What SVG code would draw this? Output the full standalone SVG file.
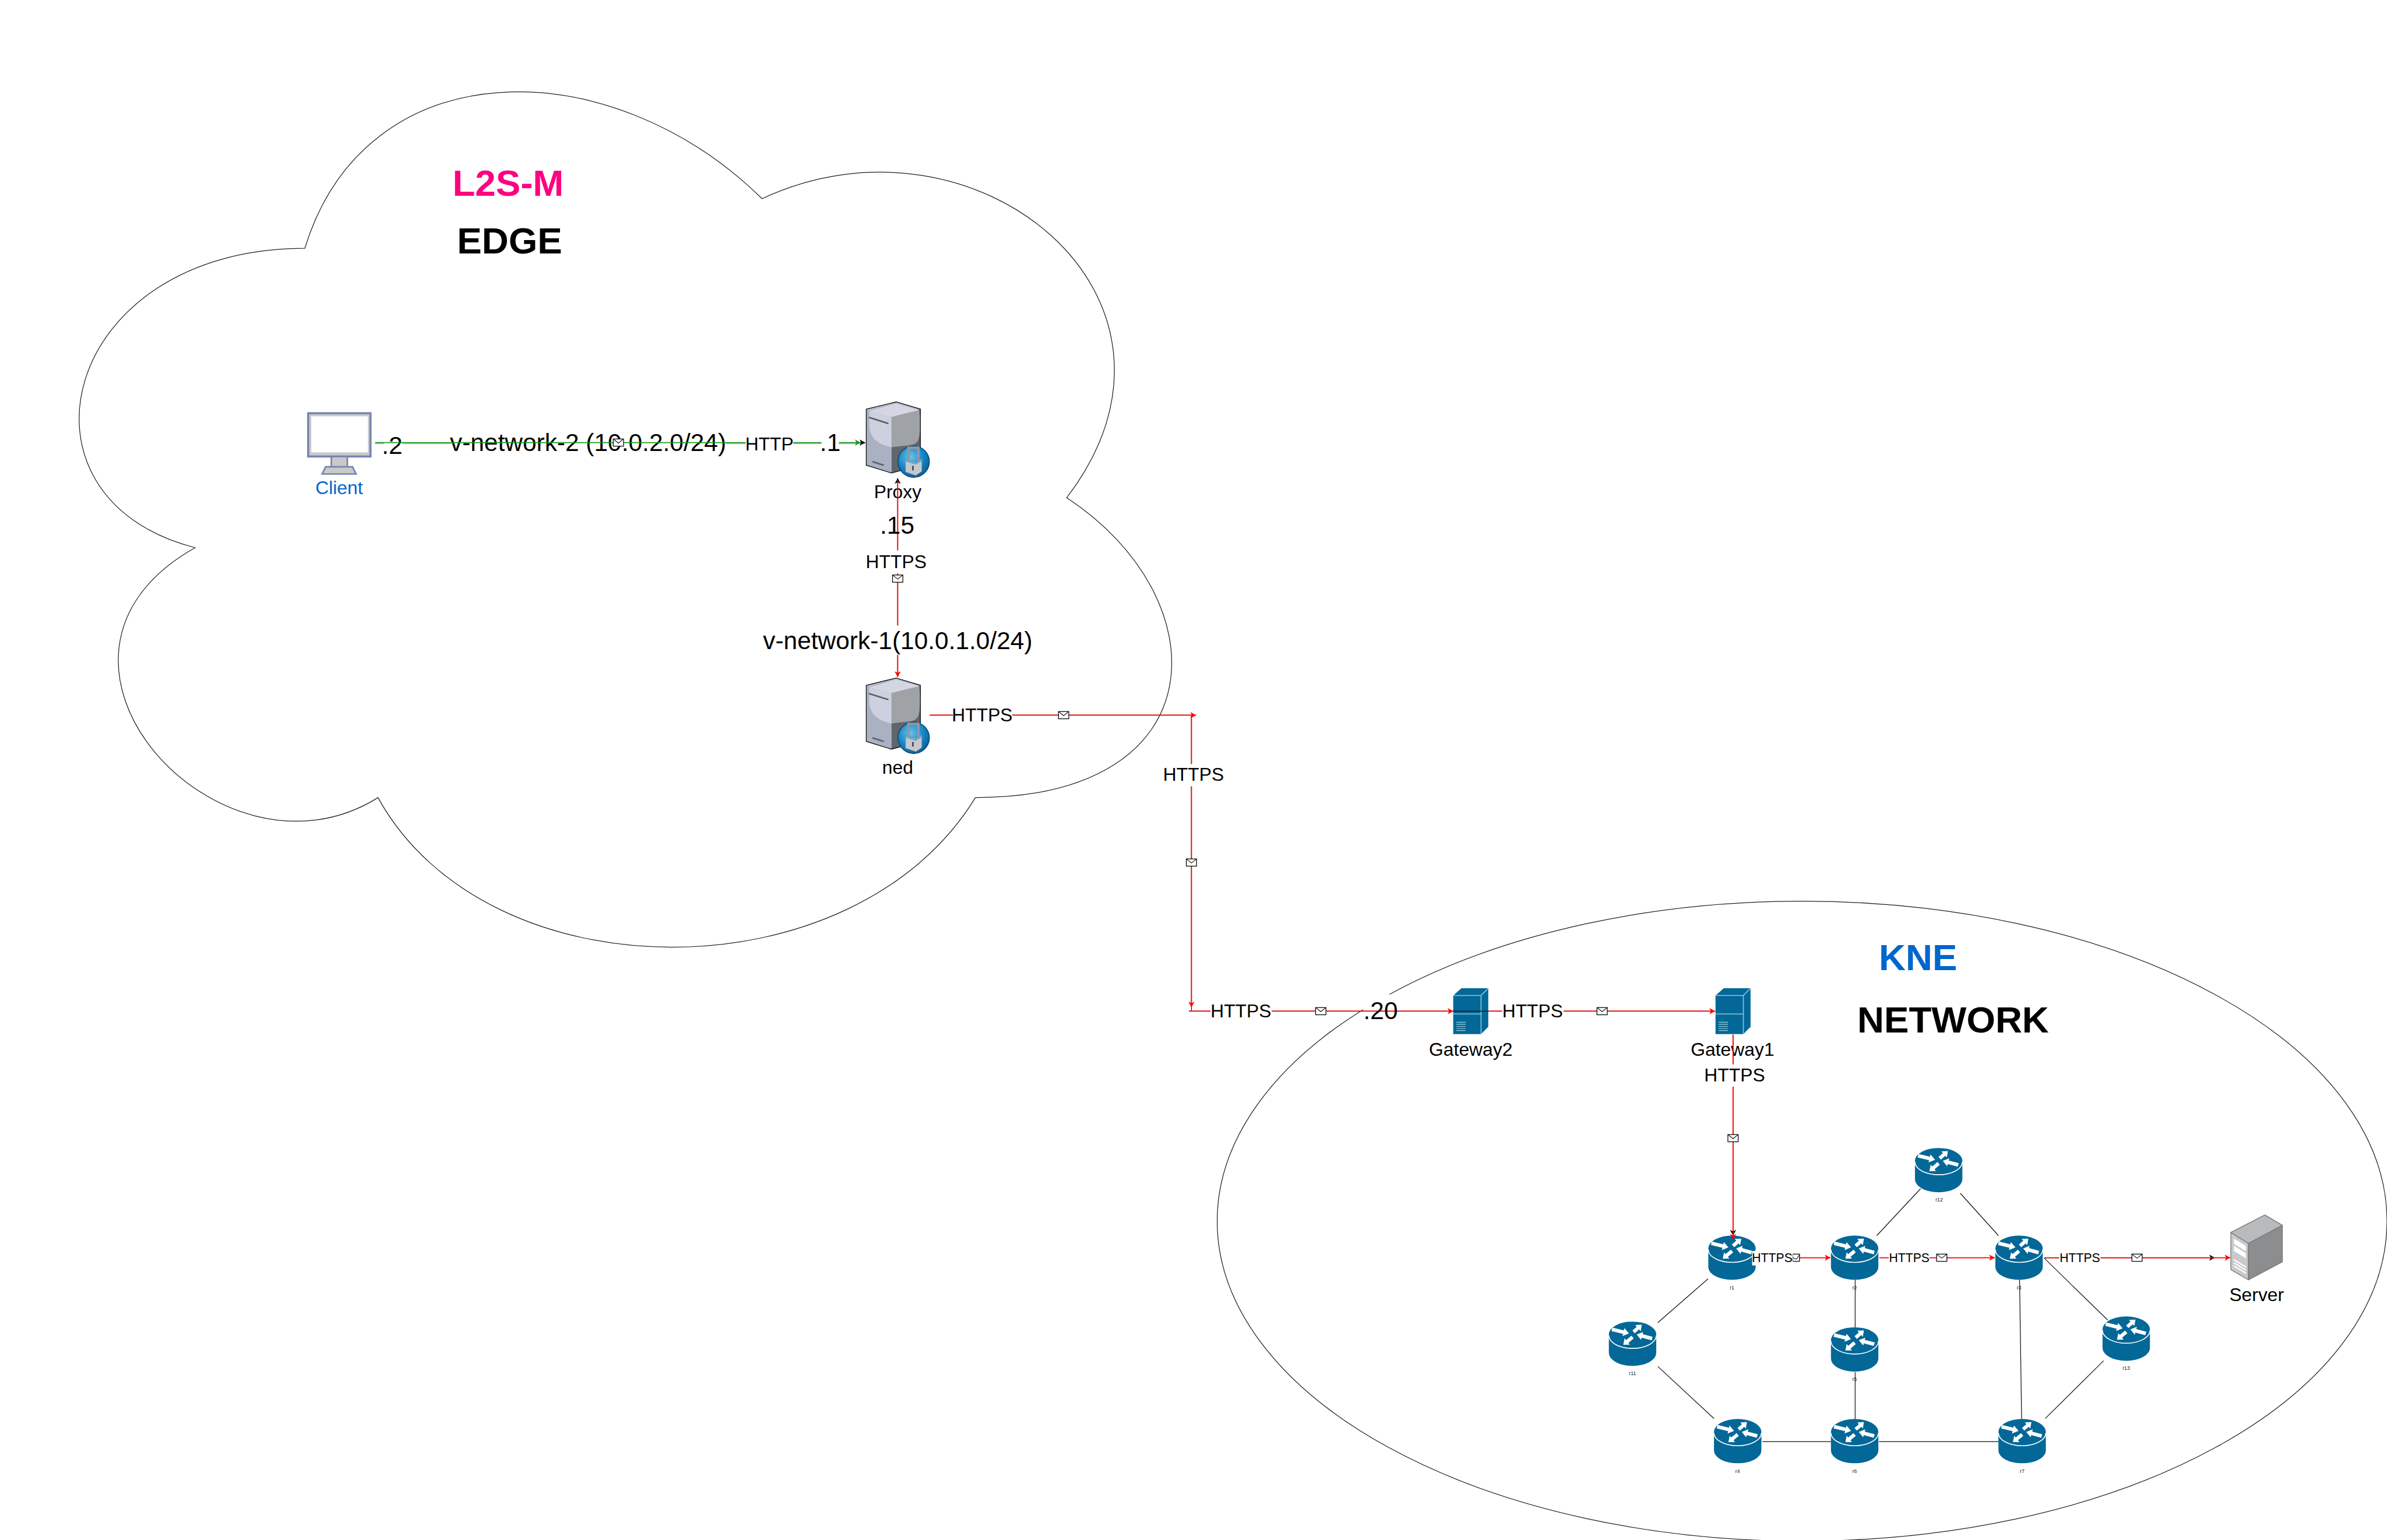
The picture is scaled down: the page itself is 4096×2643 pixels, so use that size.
<svg xmlns="http://www.w3.org/2000/svg" xmlns:xlink="http://www.w3.org/1999/xlink" width="4096" height="2643" viewBox="0 0 4096 2643">
<style>
text{font-family:"Liberation Sans",Arial,Helvetica,sans-serif;text-anchor:middle;dominant-baseline:central;fill:#000}
.t72{font-size:72px;font-weight:bold}
.t48{font-size:48px}
.t36{font-size:36px}
.t24{font-size:24px}
.t10{font-size:10px;fill:#222}
.area{fill:#fff;stroke:#222;stroke-width:1.4}
.k{fill:none;stroke:#111;stroke-width:1.4}
.r{fill:none;stroke:#f00;stroke-width:2}
.g{fill:none;stroke:#1a9a1a;stroke-width:2}
.bg{fill:#fff}
.env{fill:#fff;stroke:#000;stroke-width:1.4}
.envf{fill:none;stroke:#000;stroke-width:1.2}
.body{fill:#036897}
.w{fill:#fff}
</style>
<defs>
<marker id="ar" markerUnits="userSpaceOnUse" markerWidth="14" markerHeight="14" refX="12" refY="7" orient="auto"><path d="M1,1 L12,7 L1,13 L4,7 Z" fill="#f00"/></marker>
<marker id="ak" markerUnits="userSpaceOnUse" markerWidth="14" markerHeight="14" refX="12" refY="7" orient="auto"><path d="M1,1 L12,7 L1,13 L4,7 Z" fill="#000"/></marker>
<marker id="ag" markerUnits="userSpaceOnUse" markerWidth="14" markerHeight="14" refX="12" refY="7" orient="auto"><path d="M1,1 L12,7 L1,13 L4,7 Z" fill="#1a9a1a"/></marker>
<radialGradient id="globe" cx="0.4" cy="0.35" r="0.7"><stop offset="0" stop-color="#6ec1e8"/><stop offset="0.6" stop-color="#1285c6"/><stop offset="1" stop-color="#0a5c94"/></radialGradient>
<g id="env"><rect class="env" x="-10" y="-7" width="20" height="14"/><path class="envf" d="M-10,-7 L0,1 L10,-7"/></g>
<g id="router">
<path class="body" d="M0,25 A46,25 0 0 1 92,25 V61 A46,25 0 0 1 0,61 Z"/>
<path d="M0,27 A46,25 0 0 0 92,27" fill="none" stroke="#fff" stroke-width="1.8"/>
<polygon class="w" points="5.2,18.4 27.5,23.8 26.4,28.2 39,23 30.2,12.6 29.1,17 6.8,11.6"/>
<polygon class="w" points="84.9,29.6 65.5,24.4 66.7,20.1 54,25 62.5,35.5 63.7,31.2 83.1,36.4"/>
<polygon class="w" points="50.3,22.6 58.8,15.2 61.8,18.6 64,6 51.2,6.6 54.2,10 45.7,17.4"/>
<polygon class="w" points="48.2,32.7 37.9,41.3 40.8,44.8 28,45 30.6,32.4 33.5,35.9 43.8,27.3"/>
</g>
<g id="lockserver">
<polygon points="0,14 49,29 49,138 0,123" fill="#a9b1c3"/>
<polygon points="49,29 105,14 105,123 49,138" fill="#5f666c"/>
<polygon points="0,14 58,0 105,14 49,29" fill="#b4b9c8"/>
<path d="M6,18 L49,29 V88 C30,84 6,75 6,45 Z" fill="#cdd1df"/>
<path d="M49,29 L103,16 C106,40 105,60 102,70 C100,80 92,83 85,84 L49,88 Z" fill="#9fa2a6"/>
<polygon points="6,18 58,3 103,16 49,29" fill="#d4d7e3"/>
<path d="M5,30 L43,42 M12,116 L34,123" stroke="#5a6068" stroke-width="3" fill="none"/>
<polygon points="0,14 58,0 105,14 105,123 49,138 0,123" fill="none" stroke="#111" stroke-width="1.5"/>
<circle cx="92" cy="116" r="30.5" fill="url(#globe)" stroke="#0a3f66" stroke-width="1.5"/>
<path d="M82,110 V89 H101 V116" fill="none" stroke="#8f98a3" stroke-width="5"/>
<polygon points="76,111 96,117 108,110 108,135 96,143 76,136" fill="#c4c9cf" stroke="#68727c" stroke-width="1"/>
<path d="M76,114 L96,120 L108,113" fill="none" stroke="#5aa6d6" stroke-width="3"/>
<rect x="89" y="124" width="3" height="9" fill="#444"/>
</g>
<g id="gateway">
<polygon points="16,0 68,0 54,14 0,14" fill="#036897"/>
<polygon points="54,14 68,0 68,75 54,89" fill="#036897"/>
<rect x="0" y="14" width="54" height="75" fill="#036897"/>
<path d="M0,14 H54 L68,0 M54,14 V89 M0,50 H54" fill="none" stroke="#8cc6dc" stroke-width="1.8"/>
<path d="M6,66 H24 M6,70 H24 M6,74 H24 M6,78 H24 M6,82 H24" stroke="#9fd0e0" stroke-width="1.3" fill="none"/>
</g>
</defs>
<g transform="scale(0.88428)">
<g id="areas">
<path id="edge-cloud" class="area" d="M591.5,482 C118,482 0,966 378.6,1063 C0,1276 425.9,1741 733.5,1548 C946.4,1935 1656.2,1935 1892.8,1548 C2366,1548 2366,1160 2070,966 C2366,579 1892.8,192 1478.8,385.6 C1183,95 709.8,95 591.5,482 Z"/>
<ellipse id="kne-area" class="area" cx="3497" cy="2370" rx="1135" ry="621"/>
</g>
<g id="titles">
<text class="t72" x="986" y="355" style="fill:#ff0080">L2S-M</text>
<text class="t72" x="989" y="467">EDGE</text>
<text class="t72" x="3722" y="1858" style="fill:#0066cc">KNE</text>
<text class="t72" x="3790" y="1979">NETWORK</text>
</g>
<g id="client">
<rect x="598" y="802" width="121" height="84" fill="#c9c9c9" stroke="#7585b0" stroke-width="4"/>
<rect x="604" y="808" width="110" height="70" fill="#fff"/>
<rect x="643" y="886" width="31" height="26" fill="#c9c9c9" stroke="#7585b0" stroke-width="3"/>
<polygon points="632,906 684,906 691,920 625,920" fill="#c9c9c9" stroke="#7585b0" stroke-width="3"/>
<text class="t36" x="658" y="947" style="fill:#0066cc">Client</text>
</g>
<g id="proxy"><use href="#lockserver" x="1681" y="780"/><text class="t36" x="1742" y="955">Proxy</text></g>
<g id="ned"><use href="#lockserver" x="1681" y="1316"/><text class="t36" x="1742" y="1489">ned</text></g>
<g id="gateway2"><use href="#gateway" x="2820" y="1918"/><text class="t36" x="2854" y="2037">Gateway2</text></g>
<g id="gateway1"><use href="#gateway" x="3329" y="1918"/><text class="t36" x="3362" y="2037">Gateway1</text></g>
<g id="r1"><use href="#router" x="3315" y="2398"/><text class="t10" x="3361" y="2499">r1</text></g>
<g id="r2"><use href="#router" x="3553" y="2398"/><text class="t10" x="3599" y="2499">r2</text></g>
<g id="r3"><use href="#router" x="3872" y="2398"/><text class="t10" x="3918" y="2499">r3</text></g>
<g id="r4"><use href="#router" x="3326" y="2754"/><text class="t10" x="3372" y="2855">r4</text></g>
<g id="r5"><use href="#router" x="3553" y="2576"/><text class="t10" x="3599" y="2677">r5</text></g>
<g id="r6"><use href="#router" x="3553" y="2754"/><text class="t10" x="3599" y="2855">r6</text></g>
<g id="r7"><use href="#router" x="3878" y="2754"/><text class="t10" x="3924" y="2855">r7</text></g>
<g id="r11"><use href="#router" x="3122" y="2565"/><text class="t10" x="3168" y="2666">r11</text></g>
<g id="r12"><use href="#router" x="3716" y="2228"/><text class="t10" x="3763" y="2329">r12</text></g>
<g id="r13"><use href="#router" x="4080" y="2555"/><text class="t10" x="4126" y="2655">r13</text></g>
<g id="server">
<polygon points="4329,2392 4363,2413 4363,2484 4329,2464" fill="#c9cacc" stroke="#777" stroke-width="1.5" stroke-linejoin="round"/>
<polygon points="4363,2413 4429,2378 4429,2449 4363,2484" fill="#8c8d8f" stroke="#777" stroke-width="1.5" stroke-linejoin="round"/>
<polygon points="4329,2392 4395,2358 4429,2378 4363,2413" fill="#b9babc" stroke="#777" stroke-width="1.5" stroke-linejoin="round"/>
<polygon points="4335,2404 4358,2418 4358,2428 4335,2414" fill="#fff"/>
<polygon points="4335,2418 4358,2432 4358,2442 4335,2428" fill="#fff"/>
<path d="M4335,2445 L4358,2459 M4335,2451 L4358,2465 M4335,2457 L4358,2471" stroke="#fff" stroke-width="2.5" fill="none"/>
<text class="t36" x="4379" y="2513">Server</text>
</g>
<g id="connectors">
<path d="M728,861 H1680" fill="none" stroke="#bbb" stroke-width="2"/>
<path class="k" d="M728,859 H1679" marker-end="url(#ak)"/>
<rect class="bg" x="745" y="838" width="36" height="50"/>
<rect class="bg" x="875" y="832" width="533" height="54"/>
<text class="t48" x="761" y="865">.2</text>
<text class="t48" x="1141" y="859">v-network-2 (10.0.2.0/24)</text>
<path class="g" d="M728,859 H1670" marker-end="url(#ag)"/>
<rect class="bg" x="1447" y="840" width="92" height="40"/>
<text class="t36" x="1493" y="862">HTTP</text>
<rect class="bg" x="1594" y="832" width="34" height="54"/>
<text class="t48" x="1611" y="859">.1</text>
<use href="#env" x="1200" y="859"/>

<path class="k" d="M1742,1314 V928" marker-end="url(#ak)"/>
<path class="r" d="M1742,932 V1314" marker-end="url(#ar)"/>
<rect class="bg" x="1680" y="1000" width="60" height="48"/>
<text class="t48" x="1741" y="1019">.15</text>
<rect class="bg" x="1680" y="1068" width="124" height="45"/>
<text class="t36" x="1739" y="1090">HTTPS</text>
<use href="#env" x="1742" y="1123"/>
<rect class="bg" x="1480" y="1214" width="523" height="57"/>
<text class="t48" x="1742" y="1243">v-network-1(10.0.1.0/24)</text>

<path class="k" d="M1804,1388 H2312 V1962"/>
<path class="r" d="M1804,1388 H2321" marker-end="url(#ar)"/>
<rect class="bg" x="1849" y="1368" width="115" height="40"/>
<text class="t36" x="1906" y="1388">HTTPS</text>
<use href="#env" x="2064" y="1388"/>
<path class="r" d="M2312,1388 V1955" marker-end="url(#ar)"/>
<rect class="bg" x="2257" y="1483" width="118" height="43"/>
<text class="t36" x="2316" y="1503">HTTPS</text>
<use href="#env" x="2312" y="1674"/>

<path class="k" d="M2307,1962.5 H3328"/>
<path class="r" d="M2307,1962.5 H2820" marker-end="url(#ar)"/>
<rect class="bg" x="2349" y="1942" width="119" height="40"/>
<text class="t36" x="2408" y="1962">HTTPS</text>
<use href="#env" x="2563" y="1962.5"/>
<rect class="bg" x="2645" y="1930" width="68" height="30" fill-opacity="1"/>
<text class="t48" x="2679" y="1962">.20</text>
<path class="r" d="M2888,1962.5 H3328" marker-end="url(#ar)"/>
<rect class="bg" x="2915" y="1942" width="119" height="40"/>
<text class="t36" x="2974" y="1962">HTTPS</text>
<use href="#env" x="3109" y="1962.5"/>

<path class="k" d="M3363,2008 V2398" marker-end="url(#ak)"/>
<path class="r" d="M3363,2008 V2406" marker-end="url(#ar)"/>
<rect class="bg" x="3305" y="2066" width="122" height="43"/>
<text class="t36" x="3366" y="2087">HTTPS</text>
<use href="#env" x="3363" y="2209"/>

<path class="r" d="M3409,2441 H3552" marker-end="url(#ar)"/>
<rect class="env" x="3479" y="2434" width="13" height="14"/>
<path class="envf" d="M3479,2441 L3486,2444 L3492,2435"/>
<rect class="bg" x="3400" y="2428" width="79" height="28"/>
<text class="t24" x="3439" y="2441">HTTPS</text>

<path class="r" d="M3647,2441 H3871" marker-end="url(#ar)"/>
<rect class="bg" x="3665" y="2427" width="79" height="28"/>
<text class="t24" x="3705" y="2441">HTTPS</text>
<use href="#env" x="3768" y="2441"/>

<path class="k" d="M3967,2441 H4298" marker-end="url(#ak)"/>
<path class="r" d="M3967,2441 H4328" marker-end="url(#ar)"/>
<rect class="bg" x="3996" y="2427" width="80" height="28"/>
<text class="t24" x="4036" y="2441">HTTPS</text>
<use href="#env" x="4147" y="2441"/>

<path class="k" d="M3727,2307 L3642,2398"/>
<path class="k" d="M3804,2316 L3878,2398"/>
<path class="k" d="M3314.5,2482 L3217,2567"/>
<path class="k" d="M3217,2652 L3326,2753"/>
<path class="k" d="M3420,2798 H3553"/>
<path class="k" d="M3646,2798 H3878"/>
<path class="k" d="M3600,2484 V2576"/>
<path class="k" d="M3600,2663 V2754"/>
<path class="k" d="M3919,2484 L3923,2754"/>
<path class="k" d="M3967,2442 L4090,2562"/>
<path class="k" d="M4082,2641 L3969,2753"/>
</g>
</g>
</svg>
